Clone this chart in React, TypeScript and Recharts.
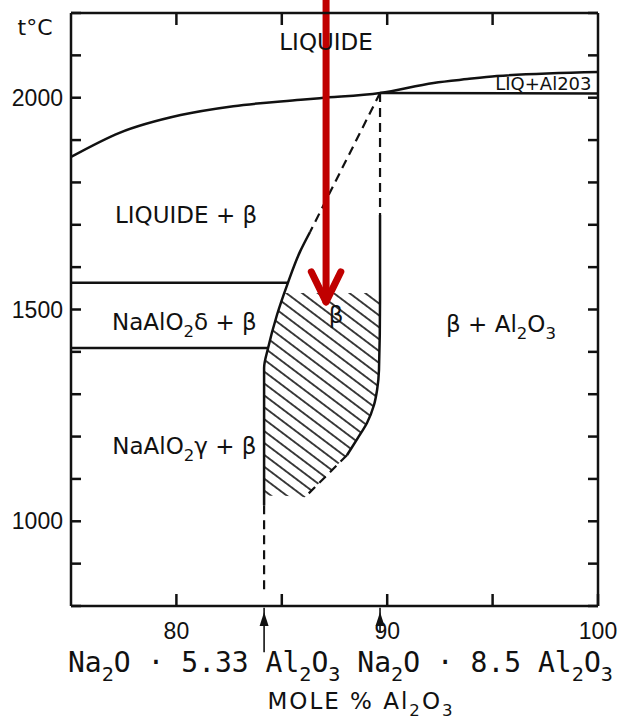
import {
  Area,
  ComposedChart,
  Line,
  ReferenceDot,
  ReferenceLine,
  Scatter,
  XAxis,
  YAxis,
} from 'recharts';

const INK = '#111';
const LABEL_FONT = "'DejaVu Sans', sans-serif";
const TICK_FONT = "'Liberation Sans', Arial, sans-serif";
const MONO_FONT = "'DejaVu Sans Mono', monospace";

// x = mole % Al2O3, t = temperature in °C
const xTicks = [80, 85, 90, 95, 100];
const xTopTicks = [80, 85, 90, 95];
const xLabelled = [80, 90, 100];
const yTicks = [800, 900, 1000, 1100, 1200, 1300, 1400, 1500, 1600, 1700, 1800, 1900, 2000, 2100, 2200];
const yLabelled = [1000, 1500, 2000];

const liquidus = [
  { x: 75, t: 1860 },
  { x: 77.3, t: 1917 },
  { x: 80.2, t: 1959 },
  { x: 82.7, t: 1980 },
  { x: 85.9, t: 1995 },
  { x: 86.8, t: 1999 },
  { x: 89.66, t: 2011 },
  { x: 92.2, t: 2035 },
  { x: 93.8, t: 2044 },
  { x: 95.2, t: 2051 },
  { x: 100, t: 2061 },
];
const liqAl2o3Base = [
  { x: 89.66, t: 2011 },
  { x: 100, t: 2010 },
];
const deltaLine = [
  { x: 75, t: 1563 },
  { x: 85.29, t: 1563 },
];
const gammaLine = [
  { x: 75, t: 1409 },
  { x: 84.35, t: 1409 },
];
const betaLeftSolid = [
  { x: 86.34, t: 1683 },
  { x: 85.86, t: 1636 },
  { x: 85.29, t: 1563 },
  { x: 84.77, t: 1487 },
  { x: 84.35, t: 1409 },
  { x: 84.16, t: 1362 },
  { x: 84.16, t: 1038 },
];
const betaLeftDashTop = [
  { x: 89.66, t: 2011 },
  { x: 86.34, t: 1683 },
];
const betaLeftDashLow = [
  { x: 84.16, t: 1038 },
  { x: 84.16, t: 838 },
];
const betaRightDashTop = [
  { x: 89.66, t: 2011 },
  { x: 89.66, t: 1723 },
];
const betaRightSolid = [
  { x: 89.66, t: 1723 },
  { x: 89.66, t: 1522 },
  { x: 89.61, t: 1357 },
  { x: 89.52, t: 1310 },
  { x: 89.37, t: 1274 },
  { x: 89.04, t: 1232 },
  { x: 88.61, t: 1197 },
  { x: 88.09, t: 1156 },
];
const betaRightDashLow = [
  { x: 88.09, t: 1156 },
  { x: 86.1, t: 1057 },
];
// hatched beta field: [lower, upper] temperature at each composition
const betaField = [
  { x: 84.16, range: [1060, 1362] },
  { x: 84.35, range: [1060, 1409] },
  { x: 84.77, range: [1060, 1487] },
  { x: 85.1, range: [1060, 1539] },
  { x: 86.1, range: [1057, 1539] },
  { x: 88.09, range: [1156, 1539] },
  { x: 88.61, range: [1197, 1539] },
  { x: 89.04, range: [1232, 1539] },
  { x: 89.37, range: [1274, 1539] },
  { x: 89.52, range: [1310, 1539] },
  { x: 89.61, range: [1357, 1539] },
  { x: 89.66, range: [1420, 1539] },
];

const fieldLabels = [
  { x: 87.1, t: 2113, text: 'LIQUIDE' },
  { x: 80.46, t: 1704, text: 'LIQUIDE + β' },
  { x: 80.38, t: 1452, text: 'NaAlO_2δ + β' },
  { x: 80.38, t: 1159, text: 'NaAlO_2γ + β' },
  { x: 87.57, t: 1468, text: 'β' },
  { x: 95.4, t: 1447, text: 'β + Al_2O_3' },
];
const smallLabels = [{ x: 97.41, t: 2018, text: 'LIQ+Al203' }];

// compositions marked under the axis
const markers = [
  { x: 84.16, tip: 786, end: 691 },
  { x: 89.66, tip: 786, end: 738 },
];

function RichText({ x, y, text, size, family, anchor = 'middle', spacing = 0 }: any) {
  const parts = String(text).split(/(_\d)/).filter(Boolean);
  let lowered = false;
  return (
    <text x={x} y={y} textAnchor={anchor} fontSize={size} fontFamily={family} fill={INK} letterSpacing={spacing}>
      {parts.map((p, i) => {
        if (p.startsWith('_')) {
          const dy = lowered ? 0 : size * 0.32;
          lowered = true;
          return (
            <tspan key={i} dy={dy} fontSize={size * 0.72}>
              {p.slice(1)}
            </tspan>
          );
        }
        const dy = lowered ? -size * 0.32 : 0;
        lowered = false;
        return (
          <tspan key={i} dy={dy}>
            {p}
          </tspan>
        );
      })}
    </text>
  );
}

const fieldLabel = (props: any) => (
  <RichText x={props.cx} y={props.cy} text={props.payload.text} size={23} family={LABEL_FONT} />
);
const smallLabel = (props: any) => (
  <RichText x={props.cx} y={props.cy} text={props.payload.text} size={18} family={LABEL_FONT} />
);

const arrowHead = (props: any) => (
  <path d={`M${props.cx},${props.cy} l-4.5,14 l9,0 z`} fill={INK} />
);

const yTitle = (props: any) => {
  const vb = props.viewBox;
  return <RichText x={vb.x + 35} y={vb.y + 22} text="t°C" size={22} family={LABEL_FONT} />;
};

const xTitle = (props: any) => {
  const vb = props.viewBox;
  return (
    <g>
      <RichText
        x={vb.x - 3}
        y={vb.y + 66}
        anchor="start"
        text="Na_2O · 5.33 Al_2O_3 Na_2O · 8.5 Al_2O_3"
        size={28}
        family={MONO_FONT}
      />
      <RichText
        x={vb.x + 290}
        y={vb.y + 103}
        text="MOLE % Al_2O_3"
        size={23}
        spacing={2}
        family={LABEL_FONT}
      />
    </g>
  );
};

const axisStroke = { stroke: INK, strokeWidth: 2.5 };
const tickText = { fill: INK, fontSize: 23, fontFamily: TICK_FONT };
const solid = { stroke: INK, strokeWidth: 2.5, dot: false, activeDot: false, isAnimationActive: false };
const dashed = { ...solid, strokeWidth: 2.2, strokeDasharray: '9 6' };

export default function App() {
  return (
    <div style={{ position: 'absolute', left: 0, top: 0, background: '#fff' }}>
      <ComposedChart width={619} height={721} margin={{ top: 12, right: 20, bottom: 75, left: 0 }}>
        <defs>
          <pattern id="hatch" width="9.5" height="9.5" patternUnits="userSpaceOnUse" patternTransform="rotate(37)">
            <line x1="0" y1="4.75" x2="9.5" y2="4.75" stroke={INK} strokeWidth="1.6" />
          </pattern>
        </defs>
        <XAxis
          xAxisId={0}
          type="number"
          dataKey="x"
          domain={[75, 100]}
          allowDataOverflow
          ticks={xTicks}
          height={40}
          tickSize={-12}
          tickMargin={29}
          axisLine={axisStroke}
          tickLine={axisStroke}
          tick={tickText}
          tickFormatter={(v: number) => (xLabelled.includes(v) ? String(v) : '')}
          label={xTitle}
        />
        <XAxis
          xAxisId="top"
          orientation="top"
          type="number"
          dataKey="x"
          domain={[75, 100]}
          allowDataOverflow
          ticks={xTopTicks}
          height={1}
          tickSize={-12}
          axisLine={axisStroke}
          tickLine={axisStroke}
          tickFormatter={() => ''}
        />
        <YAxis
          yAxisId={0}
          type="number"
          dataKey="t"
          domain={[800, 2200]}
          allowDataOverflow
          ticks={yTicks}
          width={71}
          tickSize={-10}
          tickMargin={18}
          axisLine={axisStroke}
          tickLine={axisStroke}
          tick={tickText}
          tickFormatter={(v: number) => (yLabelled.includes(v) ? String(v) : '')}
          label={yTitle}
        />
        <YAxis
          yAxisId="right"
          orientation="right"
          type="number"
          dataKey="t"
          domain={[800, 2200]}
          allowDataOverflow
          ticks={yTicks}
          width={1}
          tickSize={-10}
          axisLine={axisStroke}
          tickLine={axisStroke}
          tickFormatter={() => ''}
        />

        <Area
          data={betaField}
          dataKey="range"
          type="linear"
          stroke="none"
          fill="url(#hatch)"
          fillOpacity={1}
          isAnimationActive={false}
          activeDot={false}
        />

        <Line data={liquidus} dataKey="t" type="monotone" {...solid} />
        <Line data={liqAl2o3Base} dataKey="t" type="linear" {...solid} />
        <Line data={deltaLine} dataKey="t" type="linear" {...solid} />
        <Line data={gammaLine} dataKey="t" type="linear" {...solid} />
        <Line data={betaLeftSolid} dataKey="t" type="monotoneY" {...solid} />
        <Line data={betaLeftDashTop} dataKey="t" type="linear" {...dashed} />
        <Line data={betaLeftDashLow} dataKey="t" type="linear" {...dashed} />
        <Line data={betaRightDashTop} dataKey="t" type="linear" {...dashed} />
        <Line data={betaRightSolid} dataKey="t" type="monotoneY" {...solid} />
        <Line data={betaRightDashLow} dataKey="t" type="linear" {...dashed} />

        <Scatter data={fieldLabels} dataKey="t" shape={fieldLabel} isAnimationActive={false} />
        <Scatter data={smallLabels} dataKey="t" shape={smallLabel} isAnimationActive={false} />

        {markers.map((m) => (
          <ReferenceLine
            key={`stem-${m.x}`}
            segment={[{ x: m.x, y: m.tip + 10 }, { x: m.x, y: m.end }]}
            stroke={INK}
            strokeWidth={1.6}
            ifOverflow="visible"
          />
        ))}
        {markers.map((m) => (
          <ReferenceDot key={`head-${m.x}`} x={m.x} y={m.tip} r={0} shape={arrowHead} ifOverflow="visible" />
        ))}

        <ReferenceLine
          segment={[{ x: 87.1, y: 2240 }, { x: 87.1, y: 1535 }]}
          stroke="#c00000"
          strokeWidth={7}
          ifOverflow="visible"
        />
        <ReferenceLine
          segment={[{ x: 86.4, y: 1589 }, { x: 87.1, y: 1518 }]}
          stroke="#c00000"
          strokeWidth={7}
          strokeLinecap="round"
          ifOverflow="visible"
        />
        <ReferenceLine
          segment={[{ x: 87.8, y: 1589 }, { x: 87.1, y: 1518 }]}
          stroke="#c00000"
          strokeWidth={7}
          strokeLinecap="round"
          ifOverflow="visible"
        />
      </ComposedChart>
    </div>
  );
}
